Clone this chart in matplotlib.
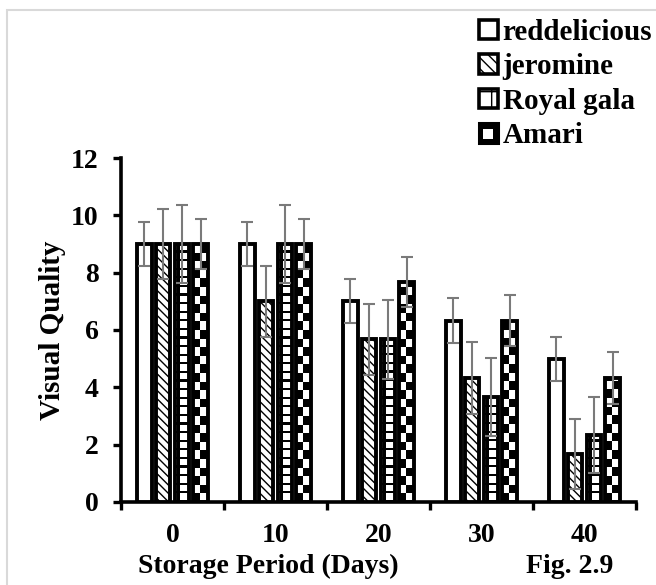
import numpy as np
import matplotlib.pyplot as plt
from matplotlib.patches import Patch, Rectangle
from matplotlib.legend_handler import HandlerPatch

plt.rcParams['font.family'] = 'Liberation Serif'
plt.rcParams['font.weight'] = 'bold'
plt.rcParams['hatch.linewidth'] = 1.0

# storage days and mean visual quality per cultivar
days = ['0', '10', '20', '30', '40']
reddelicious = [9, 9, 7, 6.33, 5]
jeromine = [9, 7, 5.67, 4.33, 1.67]
royal_gala = [9, 9, 5.67, 3.67, 2.33]
amari = [9, 9, 7.67, 6.33, 4.33]

reddelicious_err = [0.77, 0.77, 0.77, 0.77, 0.77]
jeromine_err = [1.22, 1.24, 1.25, 1.25, 1.22]
royal_gala_err = [1.35, 1.35, 1.37, 1.37, 1.33]
amari_err = [0.87, 0.87, 0.87, 0.9, 0.9]

names = ['reddelicious', 'jeromine', 'Royal gala', 'Amari']

fig = plt.figure(figsize=(6.56, 5.85), dpi=100)
ax = fig.add_axes([0.1845, 0.1419, 0.785, 0.588])

x = np.arange(len(days))
step = 0.182
width = 0.142
offsets = (np.arange(4) - 1.5) * step

# tiles for the two patterned fills (0 = black, 1 = white)
brick_tile = np.ones((4, 6))
brick_tile[0, :] = 0
brick_tile[:, 1] = 0
checker_tile = np.array([[0, 1], [1, 0]])


def fill_pattern(bar, tile, cell_h):
    x0 = bar.get_x()
    w = bar.get_width()
    h = bar.get_height()
    reps = int(np.ceil(h / cell_h))
    img = np.tile(tile, (reps, 1))
    im = ax.imshow(img, cmap='gray', vmin=0, vmax=1, interpolation='nearest',
                   extent=(x0, x0 + w, 0, reps * cell_h), origin='lower',
                   aspect='auto', zorder=2)
    im.set_clip_path(bar)


series = [reddelicious, jeromine, royal_gala, amari]
errs = [reddelicious_err, jeromine_err, royal_gala_err, amari_err]
hatches = [None, '\\\\\\\\', None, None]

for i, (vals, err) in enumerate(zip(series, errs)):
    bars = ax.bar(x + offsets[i], vals, width, facecolor='white', edgecolor='black',
                  linewidth=2.8, hatch=hatches[i], zorder=3)
    if i == 2:
        for b in bars:
            b.set_facecolor('none')
            fill_pattern(b, brick_tile, 0.3)
    if i == 3:
        for b in bars:
            b.set_facecolor('none')
            fill_pattern(b, checker_tile, 0.6)
    ax.errorbar(x + offsets[i], vals, yerr=err, fmt='none', ecolor='#7a7a7a',
                elinewidth=1.5, capsize=4.5, capthick=1.5, zorder=4)

ax.set_xlim(-0.5, 4.5)
ax.set_ylim(0, 12)
ax.set_yticks(np.arange(0, 13, 2))
ax.set_xticks(x)
ax.set_xticklabels(days)
ax.set_xticks(np.arange(-0.5, 5, 1), minor=True)
ax.tick_params(axis='x', which='major', length=0, pad=15, labelsize=20)
ax.tick_params(axis='x', which='minor', length=6, width=2.4, direction='out')
ax.tick_params(axis='y', length=6, width=2.4, direction='out', pad=10, labelsize=20)

for s in ['top', 'right']:
    ax.spines[s].set_visible(False)
for s in ['left', 'bottom']:
    ax.spines[s].set_linewidth(2.6)

ax.set_ylabel('Visual Quality', fontsize=21, fontweight='bold', labelpad=4)
fig.text(0.4085, 0.031, 'Storage Period (Days)', fontsize=20, fontweight='bold',
         ha='center', va='center')
fig.text(0.869, 0.031, 'Fig. 2.9', fontsize=20, fontweight='bold',
         ha='center', va='center')


class FramedInset(HandlerPatch):
    # black square with an offset white window, as in the Amari key
    def create_artists(self, legend, orig_handle, xdescent, ydescent,
                       width, height, fontsize, trans):
        outer = Rectangle((-xdescent, -ydescent), width, height,
                          facecolor='black', edgecolor='black', linewidth=2.2,
                          transform=trans)
        inner = Rectangle((-xdescent + 0.2 * width, -ydescent + 0.22 * height),
                          0.55 * width, 0.5 * height, facecolor='white',
                          edgecolor='none', transform=trans)
        return [outer, inner]


handles = [
    Patch(facecolor='white', edgecolor='black', linewidth=2.6),
    Patch(facecolor='white', edgecolor='black', linewidth=2.6, hatch='\\\\\\'),
    Patch(facecolor='white', edgecolor='black', linewidth=2.6, hatch='+'),
    Patch(facecolor='black', edgecolor='black', linewidth=2.6),
]
fig.legend(handles, names, loc='upper left', bbox_to_anchor=(0.73, 0.968),
           frameon=False, fontsize=21, handlelength=0.66, handleheight=0.66,
           handletextpad=0.15, labelspacing=0.26, borderaxespad=0, borderpad=0,
           handler_map={handles[3]: FramedInset()})

# light frame around the figure
fig.patches.append(Rectangle((7 / 656, -0.05), 1.2, 1 - 10 / 585 + 0.05,
                             transform=fig.transFigure, fill=False,
                             edgecolor='#d9d9d9', linewidth=1.5))

fig.savefig('out.png', dpi=100)
